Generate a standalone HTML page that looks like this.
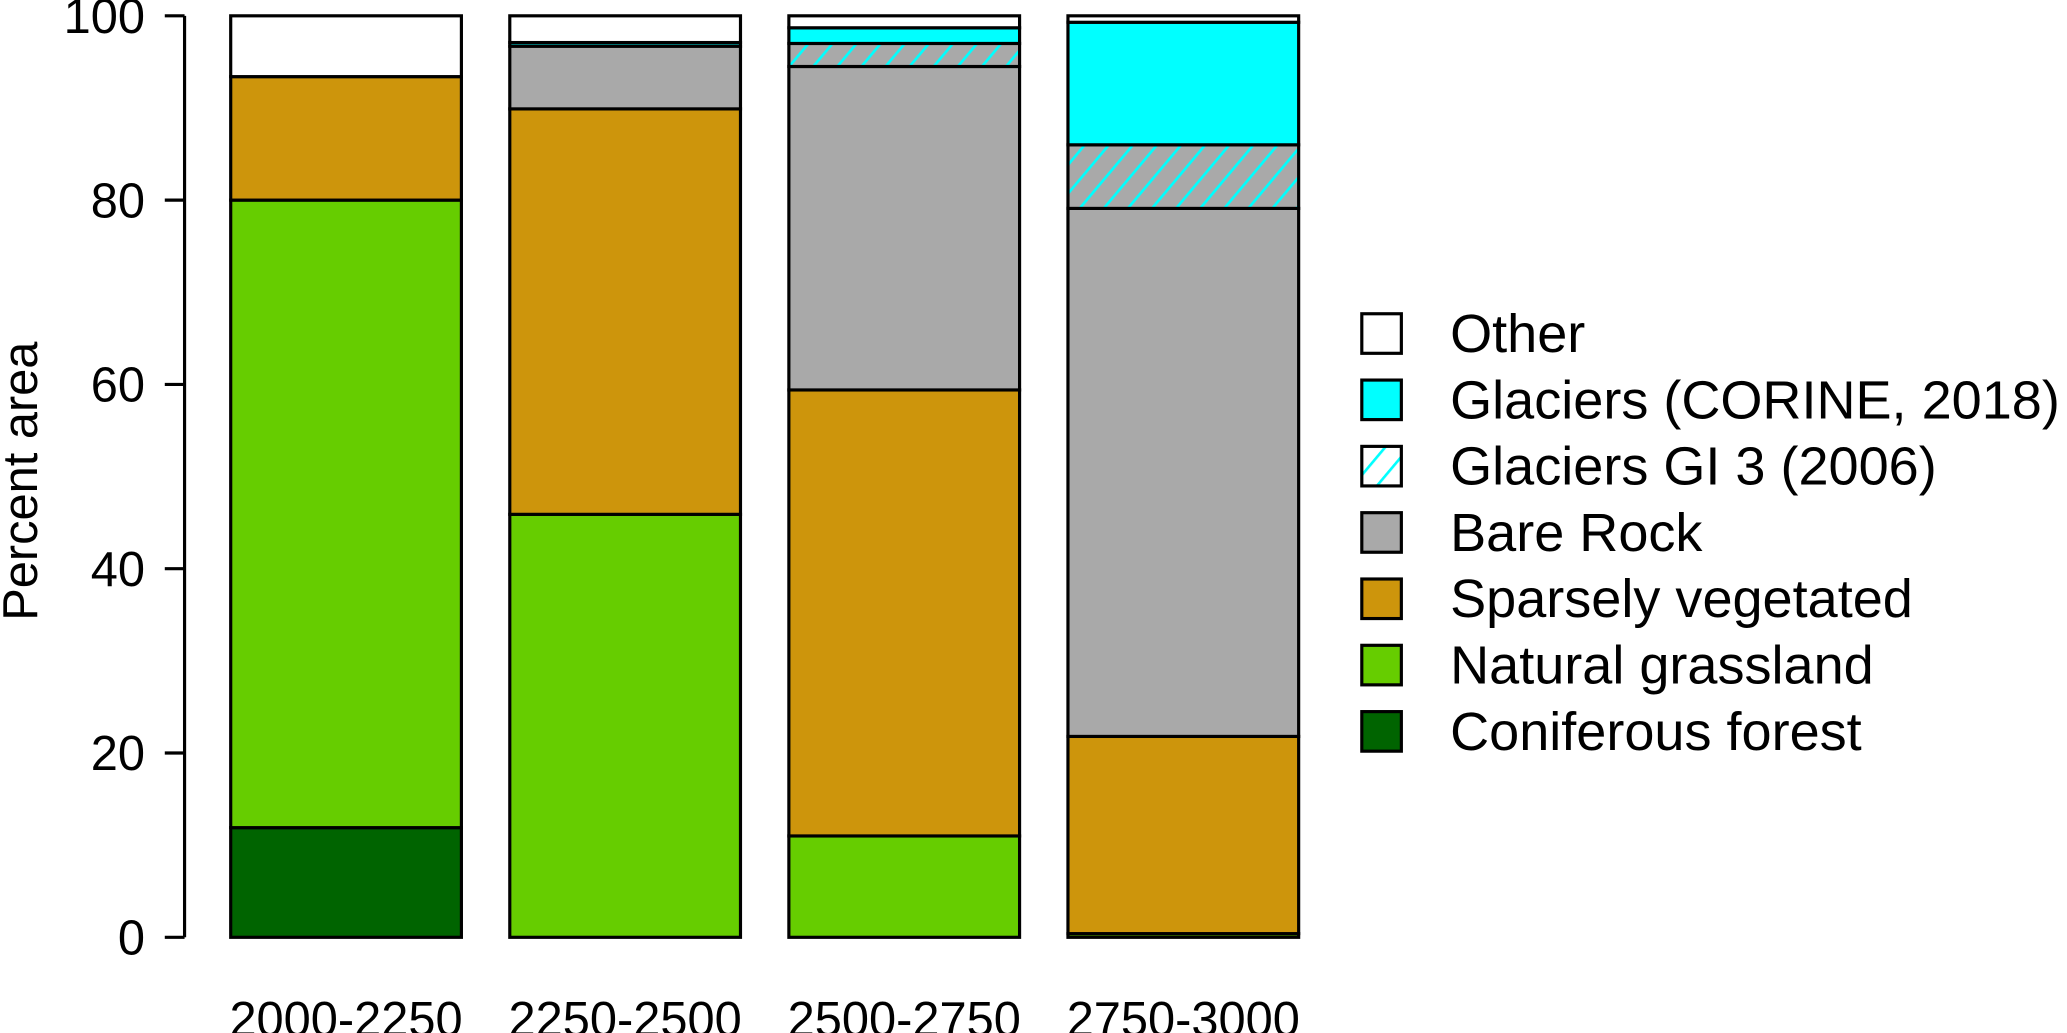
<!DOCTYPE html>
<html><head><meta charset="utf-8"><style>
body{margin:0;background:#fff}
svg{display:block;font-family:"Liberation Sans",Arial,sans-serif}
</style></head><body>
<svg id="chart" width="2067" height="1033" viewBox="0 0 2067 1033" xmlns="http://www.w3.org/2000/svg">
<defs>
<pattern id="hatch" patternUnits="userSpaceOnUse" width="14" height="14" patternTransform="rotate(40)">
<line x1="0" y1="0" x2="0" y2="14" stroke="#00ffff" stroke-width="4"/>
</pattern>
</defs>
<g id="plot" transform="scale(1.3183)"></g>
</svg>
<script>
const categories = ["2000-2250","2250-2500","2500-2750","2750-3000"];
const seriesNames = ["Coniferous forest","Natural grassland","Sparsely vegetated","Bare Rock","Glaciers GI 3 (2006)","Glaciers (CORINE, 2018)","Other"];
const coniferous = [11.9, 0, 0, 0];
const grassland = [68.1, 45.9, 11.0, 0.4];
const sparse = [13.4, 44.0, 48.4, 21.4];
const bareRock = [0, 6.8, 35.1, 57.3];
const glacierGI = [0, 0, 2.5, 6.9];
const glacierCorine = [0, 0.4, 1.7, 13.3];
const other = [6.6, 2.9, 1.3, 0.7];
const yTicks = [0, 20, 40, 60, 80, 100];

const fills = ["#006400","#66cd00","#cd950c","#a9a9a9","url(#hatch)","#00ffff","#ffffff"];
const series = [coniferous, grassland, sparse, bareRock, glacierGI, glacierCorine, other];
const NS = "http://www.w3.org/2000/svg";
const g = document.getElementById("plot");
const y0 = 711, y1 = 12;
const yScale = v => y0 - (v / 100) * (y0 - y1);
const barLeft = i => 175 + i * 211.7;
const barW = 175;
const SW = 2.4;

function mk(tag, attrs){const e=document.createElementNS(NS,tag);for(const k in attrs)e.setAttribute(k,attrs[k]);g.appendChild(e);return e;}

const ax = mk("line",{x1:140,y1:yScale(0),x2:140,y2:yScale(100),stroke:"#000","stroke-width":SW});


yTicks.forEach(t=>{
  const tk = mk("line",{x1:125,x2:140,y1:yScale(t),y2:yScale(t),stroke:"#000","stroke-width":SW});
  
  
  const tl = mk("text",{x:110,y:yScale(t)+13,"text-anchor":"end","font-size":37});
  tl.textContent = t;
  
  
});
const yt = mk("text",{x:0,y:0,transform:"translate(28,365) rotate(-90)","text-anchor":"middle","font-size":37});
yt.textContent = "Percent area";



categories.forEach((c,i)=>{
  let cum = 0;
  series.forEach((s,j)=>{
    const v = s[i];
    if (v <= 0) return;
    const top = yScale(cum+v), bot = yScale(cum);
    if (j === 4) {
      const bg = mk("rect",{x:barLeft(i),y:top,width:barW,height:bot-top,fill:"#a9a9a9"});
      
      
    }
    const r = mk("rect",{x:barLeft(i),y:top,width:barW,height:bot-top,fill:fills[j],stroke:"#000","stroke-width":SW});
    
    
    cum += v;
  });
  const xl = mk("text",{x:barLeft(i)+barW/2,y:786,"text-anchor":"middle","font-size":37});
  xl.textContent = c;
  
  
});

const legendOrder = [6,5,4,3,2,1,0];
legendOrder.forEach((j,k)=>{
  const cy = 253 + k*50.3;
  if (j===4){
    const lb = mk("rect",{x:1033,y:cy-15,width:30,height:30,fill:"#fff"});
    
    
  }
  const sw = mk("rect",{x:1033,y:cy-15,width:30,height:30,fill:fills[j],stroke:"#000","stroke-width":SW});
  
  
  const lt = mk("text",{x:1100,y:cy+14,"font-size":41});
  lt.textContent = seriesNames[j];
  
  
});
</script>
</body></html>
